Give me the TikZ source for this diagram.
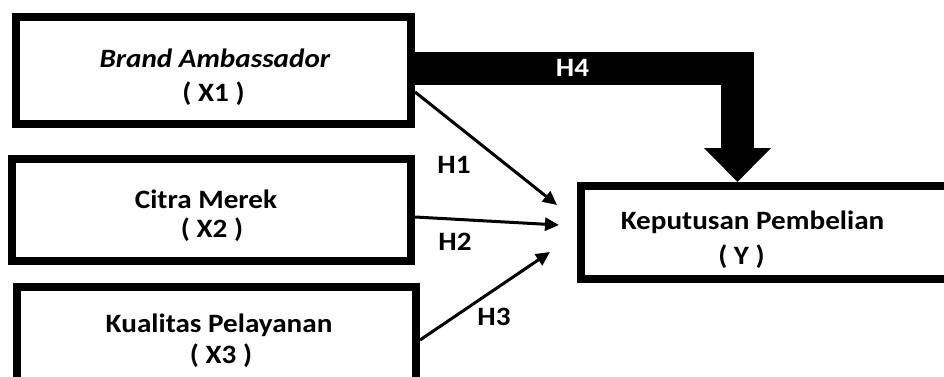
\documentclass[tikz,border=0pt]{standalone}
\usepackage{fontspec}
\setmainfont{Carlito}[FakeStretch=1.1]
\usetikzlibrary{arrows.meta}
\begin{document}
\begin{tikzpicture}[x=1pt,y=-1pt,
  box/.style={draw=black,line width=8pt,fill=white,rectangle,inner sep=0pt},
  txt/.style={inner sep=0pt,anchor=base,font=\fontsize{26.5}{30}\selectfont\bfseries},
  hlbl/.style={inner sep=0pt,anchor=base,font=\fontsize{26.5}{30}\selectfont\bfseries},
  thin/.style={line width=3pt,-{Triangle[length=14pt,width=13pt]}},
  fat/.style={line width=33pt,line join=miter,-{Triangle[length=34pt,width=65pt]}}]
\useasboundingbox (0,0) rectangle (944,377);
\clip (0,0) rectangle (944,377);
\fill[white] (0,0) rectangle (944,377);
% boxes
\node[box,minimum width=395pt,minimum height=107pt] (x1) at (213.5,70.5) {};
\node[box,minimum width=399pt,minimum height=102pt] (x2) at (211.5,210) {};
\node[box,minimum width=399pt,minimum height=103pt] (x3) at (216.5,338.5) {};
\node[box,minimum width=399pt,minimum height=93pt] (yb) at (780.5,232.5) {};
% texts
\node[txt] (x1a) at (215,68) {\textit{Brand Ambassador}};
\node[txt] (x1b) at (213.5,102) {( X1 )};
\node[txt] (x2a) at (206,208) {Citra Merek};
\node[txt] (x2b) at (212,237) {( X2 )};
\node[txt] (x3a) at (219,332) {Kualitas Pelayanan};
\node[txt] (x3b) at (221,363) {( X3 )};
\node[txt] (ya) at (752.5,229) {Keputusan Pembelian};
\node[txt] (yb2) at (741.5,264) {( Y )};
% connectors
\coordinate (h1e) at (557,205);
\coordinate (h2e) at (559,225);
\coordinate (h3e) at (550,252);
\coordinate (h4e) at (737.5,182);
\draw[fat] ([yshift=1.5pt]x1.east) -| (h4e);
\draw[thin] ([yshift=-21.5pt]x1.east) -- (h1e);
\draw[thin] ([yshift=-7pt]x2.east) -- (h2e);
\draw[thin] ([yshift=-1.5pt]x3.east) -- (h3e);
% labels
\node[hlbl,text=white] (l4) at (572.5,77) {H4};
\node[hlbl] (l1) at (454,173) {H1};
\node[hlbl] (l2) at (455,250) {H2};
\node[hlbl] (l3) at (494,325) {H3};
\end{tikzpicture}
\end{document}
